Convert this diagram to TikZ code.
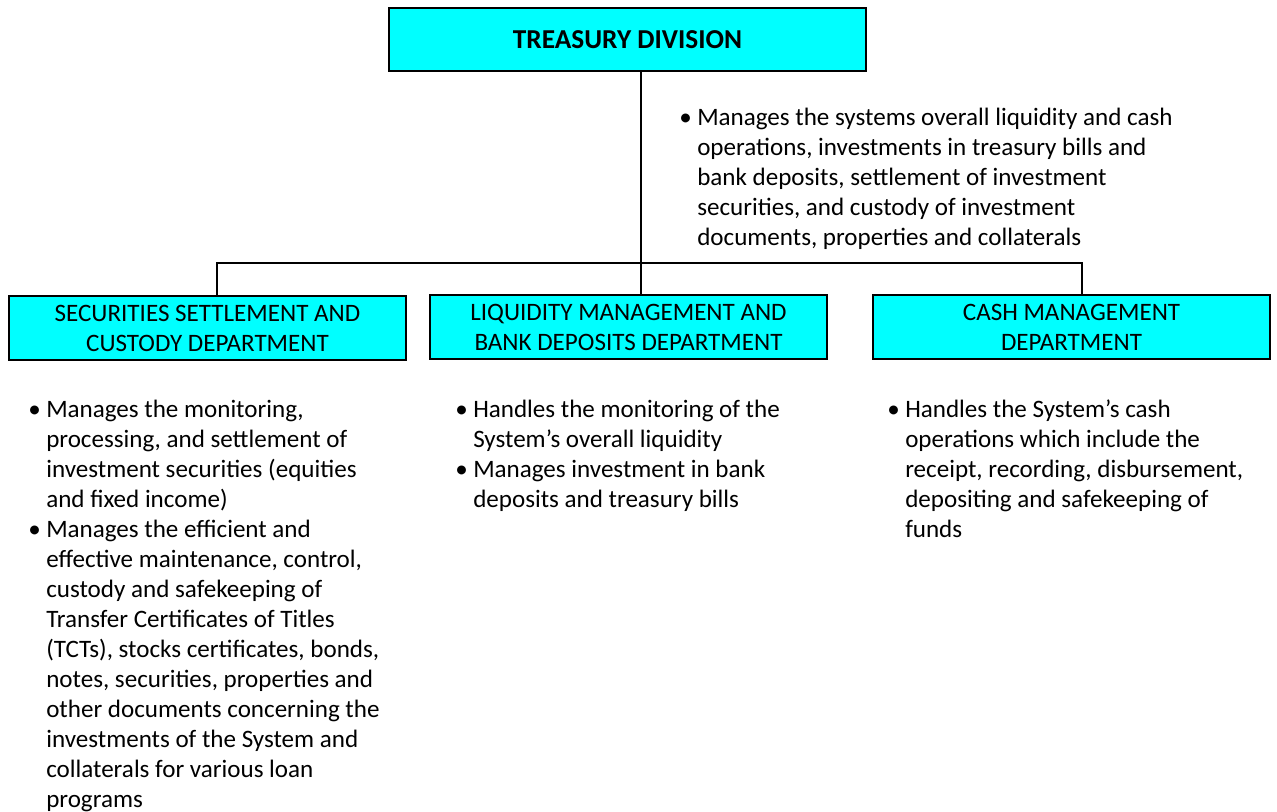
\documentclass[tikz,border=0pt]{standalone}
\usepackage{fontspec}
\setmainfont{Carlito}
\newlength{\du}
\setlength{\du}{0.75pt}
\definecolor{boxcyan}{rgb}{0.000000, 1.000000, 1.000000}
% bullet line with hanging indent
\newcommand{\bitem}{\par\hangindent=18\du\hangafter=1\noindent\strut\makebox[18\du][l]{\textbullet}}
\newcommand{\plainspace}{\spaceskip=0pt\xspaceskip=0pt\hyphenpenalty=10000}
\tikzset{
  orgbox/.style={draw=black, fill=boxcyan, line width=2\du, inner sep=0pt, align=center,
    font=\fontsize{18.8}{22.5}\selectfont},
  notes/.style={anchor=north west, inner sep=0pt, text width=440\du, align=left,
    font=\fontsize{18.8}{22.5}\selectfont},
  link/.style={line width=2\du}
}

\begin{document}
\begin{tikzpicture}
\pgftransformyscale{-1.000000}
\useasboundingbox (0\du,0\du) rectangle (1277\du,812\du);
% boxes
\node[orgbox, minimum width=477\du, minimum height=63\du, font=\fontsize{20.5}{24}\selectfont] (treasury) at (627.5\du,39.5\du) {\plainspace\textbf{TREASURY DIVISION}};
\node[orgbox, minimum width=397\du, minimum height=64\du] (secdept) at (207.5\du,328\du) {\plainspace SECURITIES SETTLEMENT AND\\CUSTODY DEPARTMENT};
\node[orgbox, minimum width=397\du, minimum height=64\du] (liqdept) at (628.5\du,327\du) {\plainspace LIQUIDITY MANAGEMENT AND\\BANK DEPOSITS DEPARTMENT};
\node[orgbox, minimum width=397\du, minimum height=64\du] (cashdept) at (1071.5\du,327\du) {\plainspace CASH MANAGEMENT\\DEPARTMENT};
% lines
\coordinate (bus) at (641\du,263\du);
\draw[link] ([xshift=13.5\du]treasury.south) -- ([xshift=12.5\du]liqdept.north);
\draw[link] ([xshift=9.5\du]secdept.north) |- (bus) -| ([xshift=10.5\du]cashdept.north);
% notes
\node[notes, text width=570\du] (treasurytxt) at (679\du,95\du) {\plainspace
\bitem Manages the systems overall liquidity and cash\newline operations, investments in treasury bills and\newline bank deposits, settlement of investment\newline securities, and custody of investment\newline documents, properties and collaterals\par};
\node[notes] (sectxt) at (28\du,387\du) {\plainspace
\bitem Manages the monitoring,\newline processing, and settlement of\newline investment securities (equities\newline and fixed income)
\bitem Manages the efficient and\newline effective maintenance, control,\newline custody and safekeeping of\newline Transfer Certificates of Titles\newline (TCTs), stocks certificates, bonds,\newline notes, securities, properties and\newline other documents concerning the\newline investments of the System and\newline collaterals for various loan\newline programs\par};
\node[notes] (liqtxt) at (455\du,387\du) {\plainspace
\bitem Handles the monitoring of the\newline System’s overall liquidity
\bitem Manages investment in bank\newline deposits and treasury bills\par};
\node[notes, text width=380\du] (cashtxt) at (887\du,387\du) {\plainspace
\bitem Handles the System’s cash\newline operations which include the\newline receipt, recording, disbursement,\newline depositing and safekeeping of\newline funds\par};
\end{tikzpicture}
\end{document}
